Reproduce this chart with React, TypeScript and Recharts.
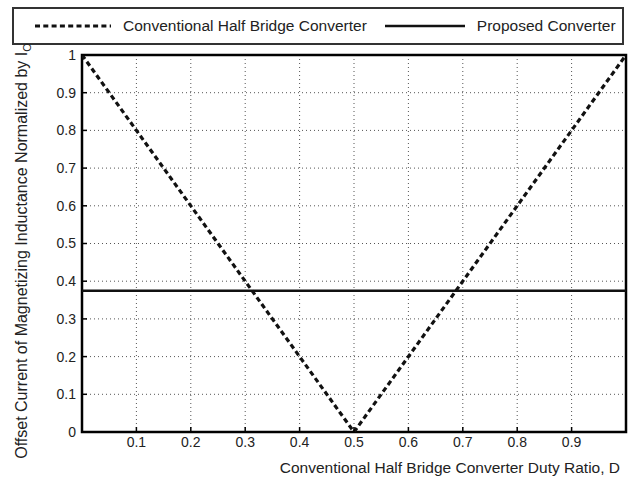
import React from "react";
import {
  LineChart,
  Line,
  XAxis,
  YAxis,
  CartesianGrid,
  ReferenceArea,
} from "recharts";

// ---- data ----
const dutyRatio = [0, 0.5, 1];
const conventionalOffset = [1, 0, 1];
const proposedDuty = [0, 1];
const proposedOffset = [0.375, 0.375];

const xTicks = [0.1, 0.2, 0.3, 0.4, 0.5, 0.6, 0.7, 0.8, 0.9];
const yTicks = [0, 0.1, 0.2, 0.3, 0.4, 0.5, 0.6, 0.7, 0.8, 0.9, 1];

const seriesNames = ["Conventional Half Bridge Converter", "Proposed Converter"];
const xLabel = "Conventional Half Bridge Converter Duty Ratio, D";
const yLabelMain = "Offset Current of Magnetizing Inductance Normalized by I";
const yLabelSub = "O";

const conventionalData = dutyRatio.map((d, i) => ({ d, v: conventionalOffset[i] }));
const proposedData = proposedDuty.map((d, i) => ({ d, v: proposedOffset[i] }));

const FONT = "'Liberation Sans', Arial, Helvetica, sans-serif";
const fmt = (v: number) => (v === 0 || v === 1 ? String(v) : v.toFixed(1));

export default function App() {
  return (
    <div style={{ position: "absolute", left: 0, top: 0, width: 632, height: 479, background: "#fff", fontFamily: FONT }}>
      {/* legend */}
      <div
        style={{
          position: "absolute",
          left: 12,
          top: 7,
          width: 608,
          height: 34,
          border: "2px solid #333",
          display: "flex",
          alignItems: "center",
          fontSize: 15.5,
          color: "#222",
        }}
      >
        <svg width={80} height={10} style={{ marginLeft: 19 }}>
          <line x1={2} y1={5} x2={78} y2={5} stroke="#111" strokeWidth={3} strokeDasharray="5 3.3" />
        </svg>
        <span style={{ marginLeft: 10 }}>{seriesNames[0]}</span>
        <svg width={82} height={10} style={{ marginLeft: 18 }}>
          <line x1={0} y1={5} x2={80} y2={5} stroke="#111" strokeWidth={2.5} />
        </svg>
        <span style={{ marginLeft: 10 }}>{seriesNames[1]}</span>
      </div>

      <LineChart
        width={632}
        height={479}
        margin={{ top: 55, right: 6, bottom: 17, left: 22 }}
        style={{ position: "absolute", left: 0, top: 0 }}
      >
        <CartesianGrid xAxisId="b" yAxisId="l" stroke="#555" strokeDasharray="1 3" strokeWidth={1} />
        <XAxis
          xAxisId="b"
          type="number"
          dataKey="d"
          domain={[0, 1]}
          ticks={xTicks}
          tickFormatter={fmt}
          height={30}
          tickSize={-5}
          tickMargin={10}
          axisLine={false}
          tickLine={{ stroke: "#000", strokeWidth: 1.5 }}
          tick={{ fill: "#222", fontSize: 14, fontFamily: FONT }}
          allowDataOverflow
          label={{
            content: () => (
              <text x={620} y={473} textAnchor="end" fontSize={15.5} fill="#222" fontFamily={FONT}>
                {xLabel}
              </text>
            ),
          }}
        />
        <XAxis
          xAxisId="t"
          orientation="top"
          type="number"
          dataKey="d"
          domain={[0, 1]}
          ticks={xTicks}
          height={0}
          tickSize={-5}
          tick={false}
          axisLine={false}
          tickLine={{ stroke: "#000", strokeWidth: 1.5 }}
          allowDataOverflow
        />
        <YAxis
          yAxisId="l"
          type="number"
          domain={[0, 1]}
          ticks={yTicks}
          tickFormatter={fmt}
          width={60}
          tickSize={-5}
          tickMargin={11}
          axisLine={false}
          tickLine={{ stroke: "#000", strokeWidth: 1.5 }}
          tick={{ fill: "#222", fontSize: 14, fontFamily: FONT }}
          allowDataOverflow
          label={{
            content: () => (
              <text
                x={0}
                y={0}
                transform="translate(27,251) rotate(-90)"
                textAnchor="middle"
                fontSize={16}
                fill="#222"
                fontFamily={FONT}
              >
                {yLabelMain}
                <tspan fontSize={11} dy={4}>{yLabelSub}</tspan>
              </text>
            ),
          }}
        />
        <YAxis
          yAxisId="r"
          orientation="right"
          type="number"
          domain={[0, 1]}
          ticks={yTicks}
          width={0}
          tickSize={-5}
          tick={false}
          axisLine={false}
          tickLine={{ stroke: "#000", strokeWidth: 1.5 }}
          allowDataOverflow
        />
        <ReferenceArea
          xAxisId="b"
          yAxisId="l"
          x1={0}
          x2={1}
          y1={0}
          y2={1}
          fill="none"
          stroke="#000"
          strokeWidth={2.5}
          ifOverflow="visible"
        />
        <Line
          xAxisId="t"
          yAxisId="r"
          data={proposedData}
          dataKey="v"
          stroke="none"
          dot={false}
          legendType="none"
          isAnimationActive={false}
        />
        <Line
          xAxisId="b"
          yAxisId="l"
          data={conventionalData}
          dataKey="v"
          name={seriesNames[0]}
          stroke="#111"
          strokeWidth={3.2}
          strokeDasharray="5 3.3"
          dot={false}
          isAnimationActive={false}
        />
        <Line
          xAxisId="b"
          yAxisId="l"
          data={proposedData}
          dataKey="v"
          name={seriesNames[1]}
          stroke="#111"
          strokeWidth={2.5}
          dot={false}
          isAnimationActive={false}
        />
      </LineChart>
    </div>
  );
}
